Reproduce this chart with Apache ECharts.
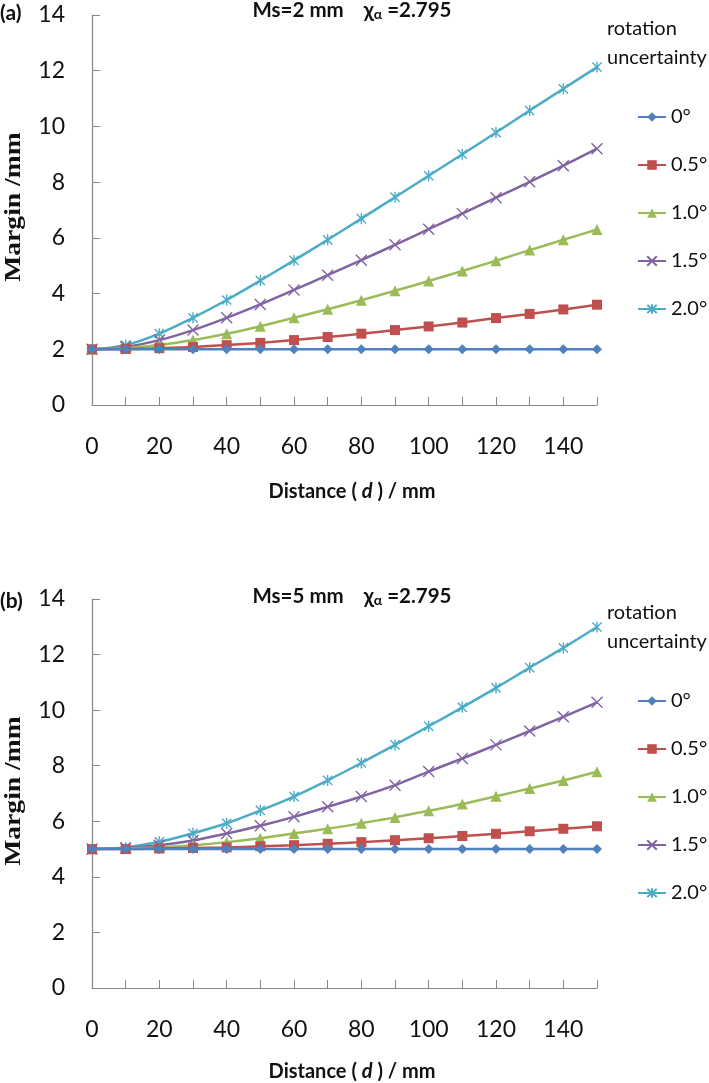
<!DOCTYPE html>
<html><head><meta charset="utf-8">
<script src="https://cdn.jsdelivr.net/npm/echarts@6/dist/echarts.min.js"></script>
<style>html,body{margin:0;padding:0;background:#fff}#c{width:709px;height:1083px}</style>
</head><body><div id="c"></div>
<script>
// ---------- data ----------
const distances = ['0','10','20','30','40','50','60','70','80','90','100','110','120','130','140','150'];
const seriesNames = ['0°','0.5°','1.0°','1.5°','2.0°'];
const yTicks = [0, 14, 2]; // min, max, step

// panel (a) Ms = 2 mm
const a_rot00 = [2,2,2,2,2,2,2,2,2,2,2,2,2,2,2,2];
const a_rot05 = [2,2.01,2.04,2.08,2.15,2.23,2.33,2.44,2.56,2.69,2.82,2.96,3.12,3.27,3.43,3.6];
const a_rot10 = [2,2.04,2.15,2.33,2.56,2.83,3.13,3.44,3.76,4.1,4.45,4.81,5.18,5.56,5.93,6.3];
const a_rot15 = [2,2.09,2.33,2.69,3.13,3.61,4.13,4.66,5.2,5.75,6.31,6.87,7.44,8.01,8.59,9.2];
const a_rot20 = [2,2.15,2.56,3.13,3.77,4.47,5.19,5.93,6.69,7.46,8.23,9.0,9.78,10.57,11.35,12.13];

// panel (b) Ms = 5 mm
const b_rot00 = [5,5,5,5,5,5,5,5,5,5,5,5,5,5,5,5];
const b_rot05 = [5,5.0,5.02,5.04,5.06,5.1,5.14,5.19,5.25,5.32,5.39,5.47,5.55,5.64,5.73,5.82];
const b_rot10 = [5,5.02,5.06,5.14,5.25,5.39,5.56,5.73,5.93,6.14,6.38,6.62,6.9,7.18,7.47,7.78];
const b_rot15 = [5,5.04,5.14,5.31,5.56,5.84,6.16,6.52,6.89,7.3,7.79,8.26,8.75,9.25,9.76,10.28];
const b_rot20 = [5,5.06,5.26,5.57,5.93,6.39,6.89,7.47,8.1,8.75,9.42,10.1,10.8,11.53,12.24,12.99];

const panelA = [a_rot00, a_rot05, a_rot10, a_rot15, a_rot20];
const panelB = [b_rot00, b_rot05, b_rot10, b_rot15, b_rot20];

// ---------- styles ----------
const colors = ['#4F81BD', '#C0504D', '#9BBB59', '#8064A2', '#4BACC6'];
const symbols = ['diamond', 'rect', 'triangle', 'path://M0,0L10,10M10,0L0,10', 'path://M0,0L10,10M10,0L0,10M5,-1L5,11'];
const symbolSizes = [10, 10, 11, 11, 11];
const axisGray = '#868686';
const sansFont = 'Lato, "Liberation Sans", sans-serif';

function makeSeries(panel, idx) {
  return panel.map((vals, i) => ({
    name: seriesNames[i],
    type: 'line',
    xAxisIndex: idx, yAxisIndex: idx,
    data: vals,
    smooth: 0.3,
    symbol: symbols[i],
    symbolSize: symbolSizes[i],
    symbolKeepAspect: true,
    showAllSymbol: true,
    z: 2 + (4 - i),
    lineStyle: { color: colors[i], width: 2.5 },
    itemStyle: { color: colors[i], borderColor: colors[i], borderWidth: i >= 3 ? 1.4 : 0, opacity: 1 },
    emphasis: { disabled: true },
    animation: false
  }));
}

function xAx(idx) {
  return {
    type: 'category', gridIndex: idx, data: distances, boundaryGap: false,
    axisLine: { lineStyle: { color: axisGray, width: 1.2 } },
    axisTick: { inside: true, length: 8, alignWithLabel: true, interval: 0, lineStyle: { color: axisGray } },
    axisLabel: { interval: 1, margin: 30, fontSize: 23, color: '#111', fontFamily: sansFont },
    splitLine: { show: false }
  };
}
function yAx(idx) {
  return {
    type: 'value', gridIndex: idx, min: yTicks[0], max: yTicks[1], interval: yTicks[2],
    axisLine: { show: true, lineStyle: { color: axisGray, width: 1.2 } },
    axisTick: { show: true, inside: true, length: 8, lineStyle: { color: axisGray } },
    axisLabel: { margin: 27, fontSize: 23, color: '#111', fontFamily: sansFont },
    splitLine: { show: false }
  };
}
function legendAt(top) {
  return {
    orient: 'vertical', left: 637, top: top,
    data: seriesNames, itemWidth: 28, itemHeight: 12, itemGap: 28, padding: 0,
    selectedMode: false,
    textStyle: { fontSize: 20, fontFamily: sansFont, color: '#111', padding: [0, 0, 0, 0] }
  };
}
function titleText(y, ms) {
  return {
    type: 'text', x: 352, y: y,
    style: {
      text: '{b|Ms=' + ms + ' mm    χ}{s|α}{b| =2.795}',
      textAlign: 'center', textVerticalAlign: 'middle',
      rich: {
        b: { fontSize: 20.5, fontWeight: 'bold', fontFamily: sansFont, fill: '#111' },
        s: { fontSize: 14, fontWeight: 'bold', fontFamily: sansFont, fill: '#111', padding: [8, 0, 0, 0] }
      }
    }
  };
}
function xName(y) {
  return {
    type: 'text', x: 352, y: y,
    style: {
      text: '{b|Distance ( }{i|d}{b| ) / mm}',
      textAlign: 'center', textVerticalAlign: 'middle',
      rich: {
        b: { fontSize: 20, fontWeight: 'bold', fontFamily: sansFont, fill: '#111' },
        i: { fontSize: 20, fontWeight: 'bold', fontStyle: 'italic', fontFamily: sansFont, fill: '#111' }
      }
    }
  };
}
function yName(y) {
  return {
    type: 'text', x: 14, y: y, rotation: Math.PI / 2, scaleX: 1.15,
    style: { text: 'Margin /mm', font: 'bold 24px "Liberation Serif", "Times New Roman", serif', fill: '#111', textAlign: 'center', textVerticalAlign: 'middle' }
  };
}
function panelTag(y, t) {
  return { type: 'text', x: 0, y: y, style: { text: t, font: 'bold 21px ' + sansFont, fill: '#111', textAlign: 'left', textVerticalAlign: 'middle' } };
}
function legendHead(y) {
  return { type: 'text', x: 607, y: y, style: { text: 'rotation\nuncertainty', font: '20px ' + sansFont, lineHeight: 29, fill: '#111', textAlign: 'left', textVerticalAlign: 'top' } };
}

const chart = echarts.init(document.getElementById('c'), null, { renderer: 'canvas' });
chart.setOption({
  backgroundColor: '#fff',
  animation: false,
  grid: [
    { left: 92, top: 15, width: 505, height: 390 },
    { left: 92, top: 599, width: 505, height: 389 }
  ],
  xAxis: [xAx(0), xAx(1)],
  yAxis: [yAx(0), yAx(1)],
  legend: [legendAt(107), legendAt(691)],
  series: [...makeSeries(panelA, 0), ...makeSeries(panelB, 1)],
  graphic: [
    panelTag(13, '(a)'), panelTag(601, '(b)'),
    titleText(10, '2'), titleText(596, '5'),
    yName(207), yName(791),
    xName(492), xName(1072),
    legendHead(14), legendHead(598)
  ]
});
</script>
</body></html>
